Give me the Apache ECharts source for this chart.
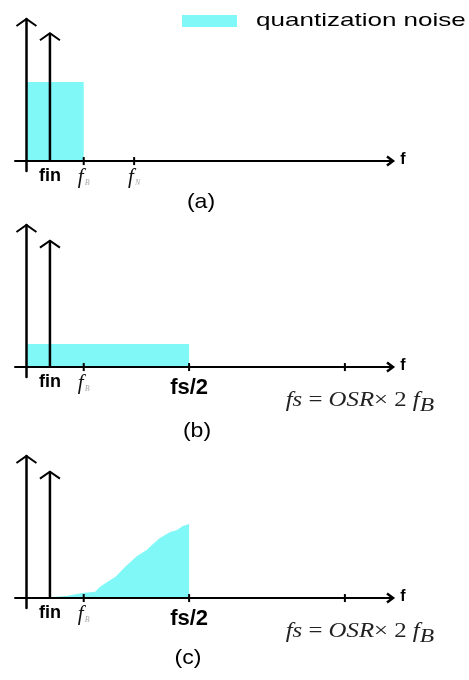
<!DOCTYPE html>
<html>
<head>
<meta charset="utf-8">
<script src="https://cdn.jsdelivr.net/npm/echarts@6/dist/echarts.min.js"></script>
<style>
  html, body { margin: 0; padding: 0; background: #fff; }
  #chart { width: 469px; height: 680px; }
</style>
</head>
<body>
<div id="chart"></div>
<script>
// Frequencies in units of the signal bandwidth fB
const finFreq = 0.41;
const fBFreq = 1.0;
const fNFreq = 1.88;
const fsHalfFreq = 2.84;
const fsFreq = 5.56;

// Height of the input tone in each panel (relative units)
const signalAmp = [0.90, 0.89, 0.89];

// (a) Nyquist-rate converter: noise confined to the signal band
const noiseLevelA = 0.556;
// (b) oversampled converter: same noise power spread up to fs/2
const noiseLevelB = 0.162;
// (c) noise-shaped (sigma-delta) spectrum
const shapedFreq  = [0.45, 0.70, 0.97, 1.20, 1.28, 1.41, 1.55, 1.72, 1.93, 2.10, 2.19, 2.33, 2.51, 2.63, 2.73, 2.84, 2.84];
const shapedLevel = [0.007, 0.015, 0.035, 0.045, 0.077, 0.113, 0.148, 0.218, 0.296, 0.338, 0.373, 0.423, 0.465, 0.479, 0.507, 0.521, 0];

// Tick marks and labels on the frequency axis of each panel
const tickFreqs = [
  [fBFreq, fNFreq],
  [fBFreq, fsHalfFreq, fsFreq],
  [fBFreq, fsHalfFreq, fsFreq]
];
const labelFreqs = [
  [finFreq, fBFreq, fNFreq],
  [finFreq, fBFreq, fsHalfFreq],
  [finFreq, fBFreq, fsHalfFreq]
];
const labelTexts = [
  ['{b|fin}', '{f|f}{s|B}', '{f|f}{s|N}'],
  ['{b|fin}', '{f|f}{s|B}', '{h|fs/2}'],
  ['{b|fin}', '{f|f}{s|B}', '{h|fs/2}']
];
const captions = ['(a)', '(b)', '(c)'];
const noiseName = 'quantization noise';

const CYAN = '#80f8f8';
const INK = '#000';

const noiseData = [
  [[0, noiseLevelA], [fBFreq, noiseLevelA]],
  [[0, noiseLevelB], [fsHalfFreq, noiseLevelB]],
  shapedFreq.map((f, i) => [f, shapedLevel[i]])
];

const gridTops = [19, 225, 456];

function chevron(points, width) {
  return {
    type: 'polyline',
    shape: { points: points },
    style: { stroke: INK, lineWidth: width, fill: null, lineJoin: 'miter' }
  };
}

// Vertical arrows (axis head and input tone) and the head of the frequency axis
function renderArrow(params, api) {
  const x = api.value(0), h = api.value(1), kind = api.value(2);
  const tip = api.coord([x, h]);
  const base = api.coord([x, 0]);
  const children = [];
  if (kind === 2) {
    children.push(chevron([[tip[0] - 6, tip[1] - 4.5], [tip[0], tip[1]], [tip[0] - 6, tip[1] + 4.5]], 2.5));
    children.push({
      type: 'text', x: tip[0] + 10, y: tip[1] - 1,
      style: { text: 'f', font: 'bold 16px "Liberation Sans", Arial, sans-serif', fill: INK, align: 'center', verticalAlign: 'middle' }
    });
  } else {
    if (kind === 1) {
      children.push({
        type: 'line',
        shape: { x1: base[0], y1: base[1], x2: tip[0], y2: tip[1] },
        style: { stroke: INK, lineWidth: 2.5 }
      });
    }
    children.push(chevron([[tip[0] - 10, tip[1] + 7], [tip[0], tip[1]], [tip[0] + 10, tip[1] + 7]], 2));
  }
  return { type: 'group', children: children };
}

function renderTick(params, api) {
  const p = api.coord([api.value(0), 0]);
  return {
    type: 'line',
    shape: { x1: p[0], y1: p[1] - 4, x2: p[0], y2: p[1] + 4 },
    style: { stroke: INK, lineWidth: 2 }
  };
}

function renderFormula(params, api) {
  const p = api.coord([api.value(0), 0]);
  const serif = '"Liberation Serif", "DejaVu Serif", serif';
  return {
    type: 'text',
    x: p[0] + 15,
    y: p[1] + 34,
    scaleX: 1.24,
    style: {
      text: '{i|fs}{r| = }{i|OSR}{r|\u00d7 2 }{i|f}{sub|B}',
      align: 'center',
      verticalAlign: 'middle',
      fill: '#222',
      rich: {
        i: { fontFamily: serif, fontStyle: 'italic', fontSize: 20, fill: '#222' },
        r: { fontFamily: serif, fontSize: 20, fill: '#222' },
        sub: { fontFamily: serif, fontStyle: 'italic', fontSize: 19, fill: '#222', padding: [10, 0, 0, 0] }
      }
    }
  };
}

const grids = [], xAxes = [], yAxes = [], series = [];
for (let i = 0; i < 3; i++) {
  grids.push({ left: 15, width: 378, top: gridTops[i], height: 152 });
  const lf = labelFreqs[i], lt = labelTexts[i];
  xAxes.push({
    type: 'value', gridIndex: i, min: -0.2, max: 6.4, z: 5,
    axisLine: { show: true, onZero: true, lineStyle: { color: INK, width: 2 } },
    axisTick: { show: false },
    splitLine: { show: false },
    axisLabel: {
      show: true,
      customValues: lf,
      margin: -4,
      formatter: function (v) {
        for (let k = 0; k < lf.length; k++) if (Math.abs(lf[k] - v) < 1e-6) return lt[k];
        return '';
      },
      rich: {
        b: { fontFamily: '"Liberation Sans", Arial, sans-serif', fontWeight: 'bold', fontSize: 18, color: INK },
        h: { fontFamily: '"Liberation Sans", Arial, sans-serif', fontWeight: 'bold', fontSize: 22, color: INK, padding: [4, 0, 0, 0] },
        f: { fontFamily: '"Liberation Serif", serif', fontStyle: 'italic', fontSize: 21, color: '#111' },
        s: { fontFamily: '"Liberation Serif", serif', fontStyle: 'italic', fontSize: 8, color: '#aaa', padding: [10, 0, 0, 1] }
      }
    }
  });
  yAxes.push({
    type: 'value', gridIndex: i, min: -0.07, max: 1, z: 5,
    axisLine: { show: true, onZero: true, lineStyle: { color: INK, width: 2.5 } },
    axisTick: { show: false },
    axisLabel: { show: false },
    splitLine: { show: false }
  });
  series.push({
    name: noiseName,
    type: 'line', xAxisIndex: i, yAxisIndex: i,
    data: noiseData[i],
    symbol: 'none', silent: true,
    lineStyle: { width: 0, color: CYAN },
    itemStyle: { color: CYAN },
    areaStyle: { color: CYAN, opacity: 1 },
    z: 1
  });
  series.push({
    type: 'custom', xAxisIndex: i, yAxisIndex: i, silent: true, clip: false, z: 10,
    renderItem: renderArrow,
    data: [[0, 1, 0], [finFreq, signalAmp[i], 1], [6.4, 0, 2]]
  });
  series.push({
    type: 'custom', xAxisIndex: i, yAxisIndex: i, silent: true, clip: false, z: 10,
    renderItem: renderTick,
    data: tickFreqs[i].map(f => [f, 0])
  });
  if (i > 0) {
    series.push({
      type: 'custom', xAxisIndex: i, yAxisIndex: i, silent: true, clip: false, z: 10,
      renderItem: renderFormula,
      data: [[fsFreq, 0]]
    });
  }
}

const captionPos = [[201, 202], [197, 431], [188, 658]];
const graphic = [
  { type: 'rect', x: 182, y: 15, shape: { x: 0, y: 0, width: 55, height: 12 }, style: { fill: CYAN }, silent: true },
  { type: 'text', x: 256, y: 21, scaleX: 1.37, silent: true,
    style: { text: noiseName, font: '19px "Liberation Sans", Arial, sans-serif', fill: INK, verticalAlign: 'middle', align: 'left' } }
];
captions.forEach((c, i) => {
  graphic.push({ type: 'text', x: captionPos[i][0], y: captionPos[i][1], scaleX: 1.1, silent: true,
    style: { text: c, font: '21px "Liberation Sans", Arial, sans-serif', fill: INK, align: 'center', verticalAlign: 'middle' } });
});

const chart = echarts.init(document.getElementById('chart'));
chart.setOption({
  animation: false,
  backgroundColor: '#fff',
  grid: grids,
  xAxis: xAxes,
  yAxis: yAxes,
  series: series,
  graphic: graphic
});
</script>
</body>
</html>
